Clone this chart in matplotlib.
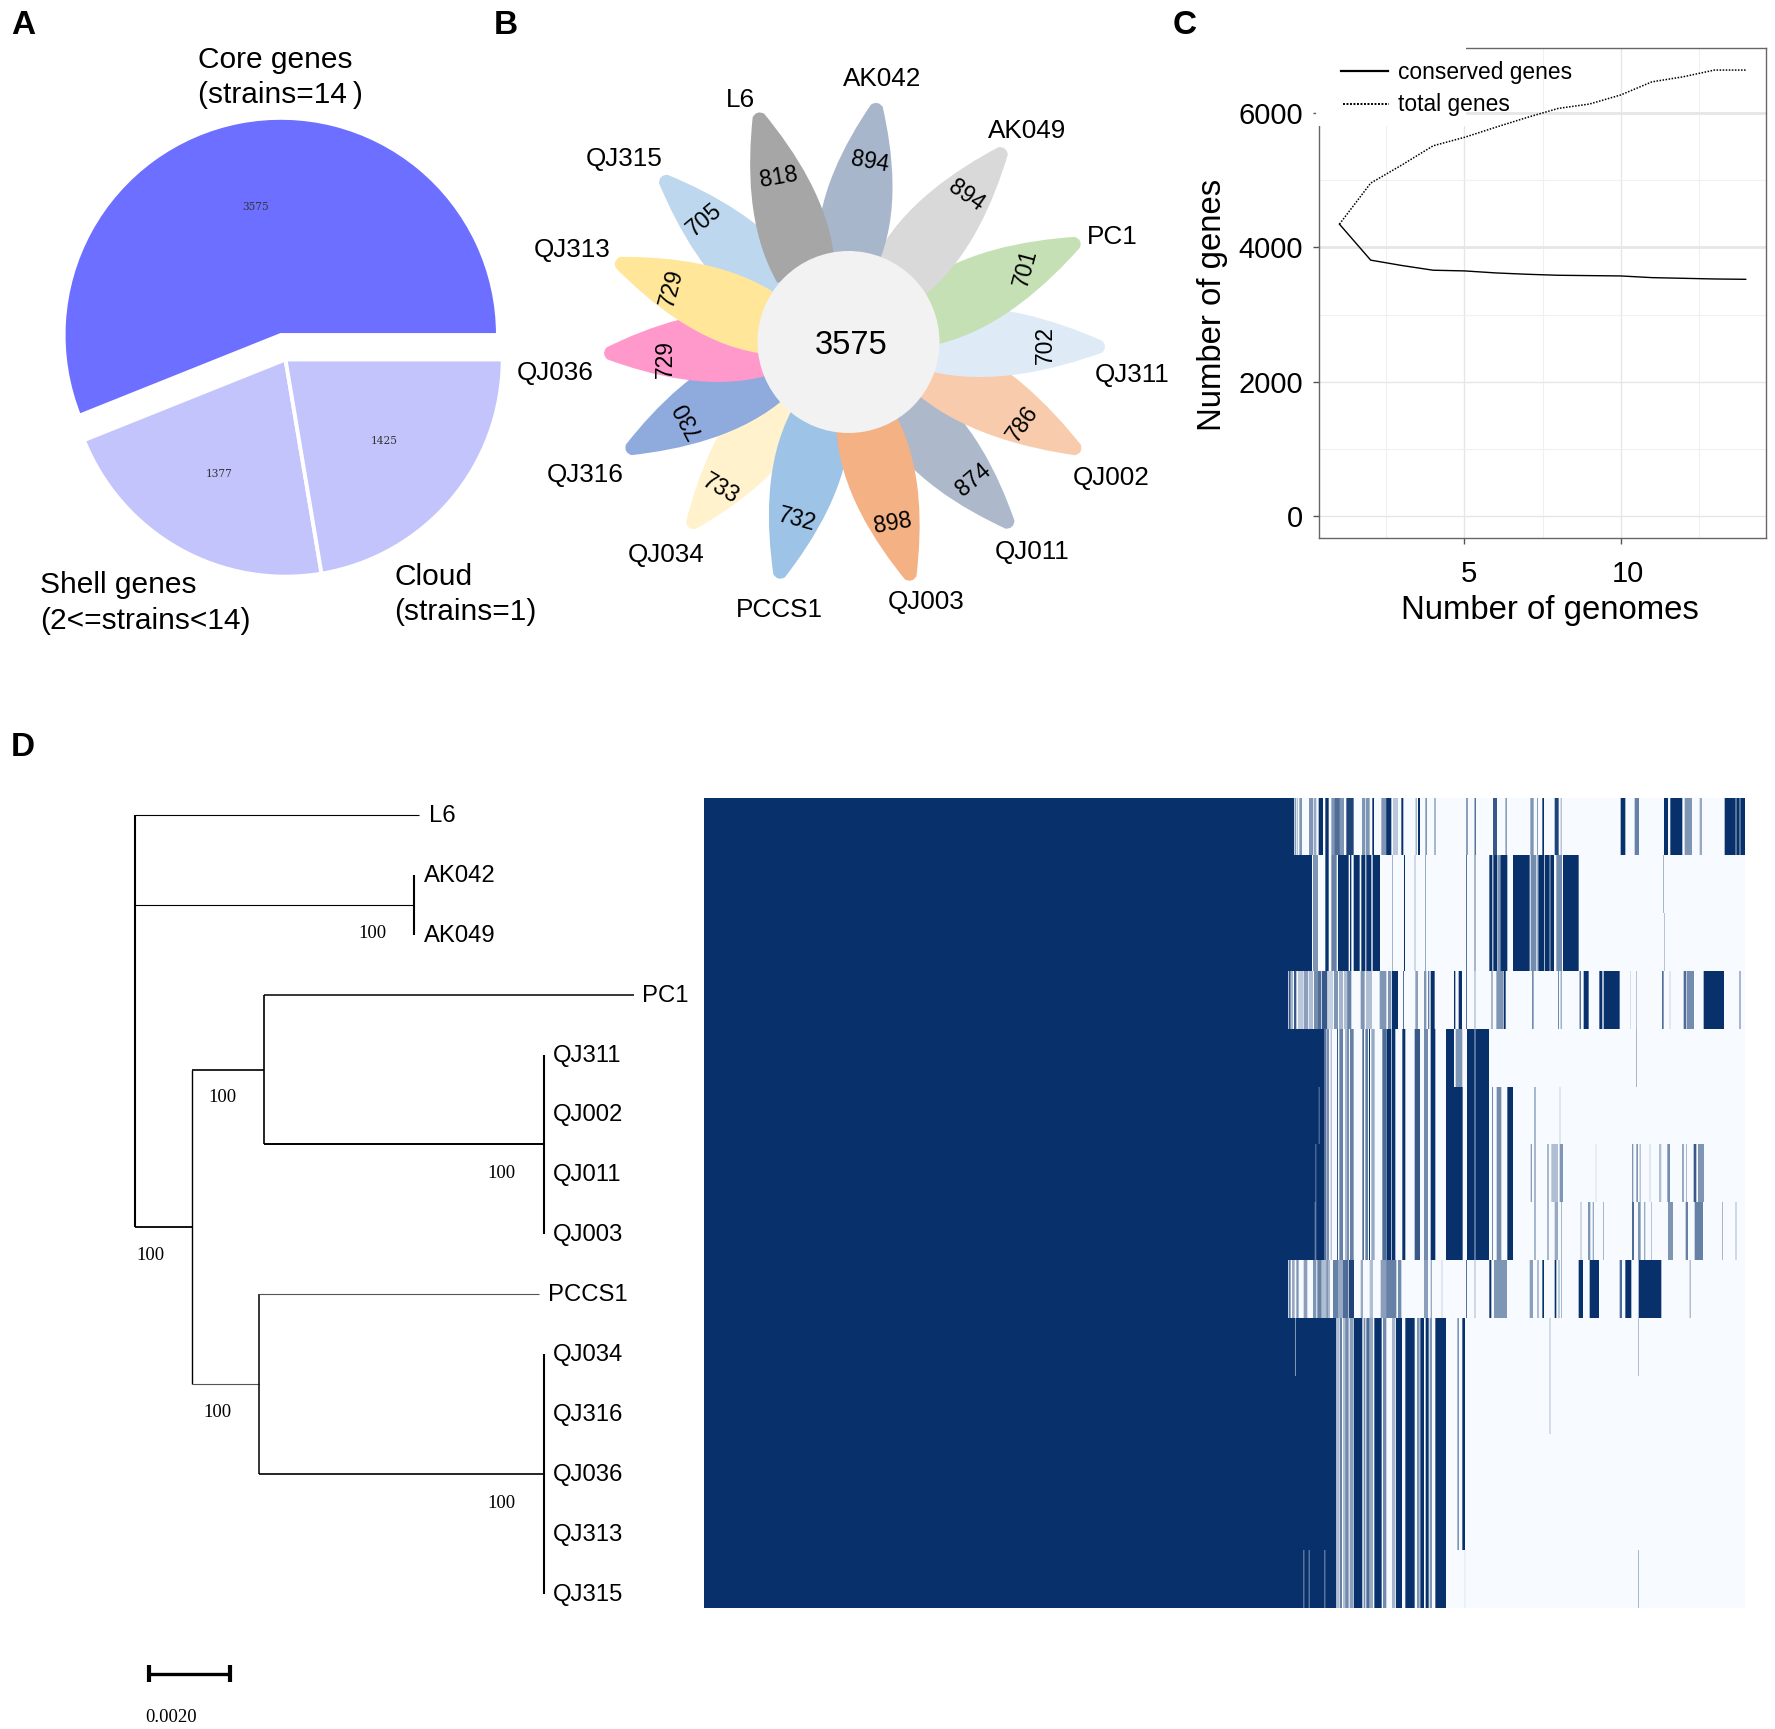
#!/usr/bin/python
# -*- coding: utf-8 -*-
import matplotlib
matplotlib.use('Agg')
import matplotlib.pyplot as plt
import numpy as np
from matplotlib.colors import LinearSegmentedColormap
from matplotlib.patches import Circle, PathPatch, Rectangle
from matplotlib.path import Path
from matplotlib.transforms import ScaledTranslation

plt.rcParams['font.family'] = ['Liberation Sans', 'DejaVu Sans']

W, H = 1775, 1729

# panel A
pie_values = [3575, 1377, 1425]
pie_colors = ['#6C6FFF', '#C3C4FC', '#C3C4FC']

# panel B
strains = ['L6', 'AK042', 'AK049', 'PC1', 'QJ311', 'QJ002', 'QJ011', 'QJ003',
           'PCCS1', 'QJ034', 'QJ316', 'QJ036', 'QJ313', 'QJ315']
specific_genes = [818, 894, 894, 701, 702, 786, 874, 898, 732, 733, 730, 729, 729, 705]
core_count = 3575
petal_colors = ['#A6A6A6', '#A8B6CB', '#D9D9D9', '#C5E0B4', '#DEEBF7', '#F8CBAD', '#ADB9CA',
                '#F4B183', '#9DC3E6', '#FFF2CC', '#8FAADC', '#FF99CC', '#FFE699', '#BDD7EE']

# panel C
n_genomes = list(range(1, 15))
conserved_genes = [4345, 3810, 3730, 3660, 3650, 3620, 3600, 3585, 3580, 3575, 3550, 3540, 3530, 3525]
total_genes = [4345, 4955, 5225, 5510, 5635, 5785, 5930, 6065, 6130, 6265, 6460, 6535, 6635, 6635]

# panel D tree, branch lengths read with the 0.0020 scale bar
tree_leaf_order = ['L6', 'AK042', 'AK049', 'PC1', 'QJ311', 'QJ002', 'QJ011', 'QJ003',
                   'PCCS1', 'QJ034', 'QJ316', 'QJ036', 'QJ313', 'QJ315']
len_L6 = 0.00700
len_AK = 0.00689
len_inner = 0.00141
len_upper = 0.00178
len_PC1 = 0.00913
len_QJ311 = 0.00691
len_lower = 0.00165
len_PCCS1 = 0.00692
len_QJ034 = 0.00704
support = '100'
scale_label = '0.0020'

# panel D presence map: solid core columns, then accessory columns as (start, end, level)
n_core = 1699
n_accessory = 1422
shared_a = [(162, 165, 1), (168, 172, .8), (178, 181, .4), (197, 200, .8), (204, 215, .6), (222, 226, .5),
            (228, 232, .8), (236, 247, .6), (273, 278, .7), (282, 290, .6), (293, 296, 1), (300, 310, .4),
            (333, 345, .7), (346, 360, 1), (362, 372, 1), (393, 402, 1), (430, 446, .8), (458, 470, .55),
            (478, 492, 1), (587, 610, 1), (612, 653, 1)]
shared_b = [(168, 195, 1), (197, 203, .3), (205, 212, .6), (215, 222, .3), (222, 232, .55), (235, 247, .45),
            (248, 273, 1), (277, 282, .55), (285, 295, .7), (296, 305, .4), (309, 331, 1), (335, 345, .55),
            (362, 372, .35), (374, 392, 1), (402, 430, 1), (437, 445, .5), (447, 458, 1), (463, 472, 1),
            (475, 482, .5), (492, 524, 1)]
row_L6 = [(0, 68, 1), (70, 73, .7), (76, 80, .3), (84, 92, .5), (113, 125, .5), (127, 135, .4), (142, 155, 1),
          (162, 172, 1), (180, 190, .5), (190, 205, .7), (205, 218, .5), (225, 247, .9), (272, 282, .5),
          (284, 295, .5), (303, 308, 1), (330, 345, .5), (345, 360, 1), (365, 380, .25), (390, 396, 1),
          (433, 436, .5), (440, 446, 1), (462, 467, .5), (490, 492, 1), (584, 590, .45), (610, 613, 1),
          (665, 677, .8), (702, 707, .45), (777, 787, .5), (798, 800, .7), (813, 818, 1), (850, 862, .9),
          (868, 871, .4), (1048, 1062, 1), (1090, 1103, .6), (1178, 1190, 1), (1197, 1233, 1), (1240, 1262, .5),
          (1285, 1292, .4), (1360, 1393, 1), (1395, 1405, 1), (1407, 1422, 1)]
row_AK042 = [(0, 122, 1), (125, 140, .5), (162, 172, 1), (180, 196, .6), (200, 232, 1), (236, 240, 1),
             (247, 265, 1), (270, 282, 1), (285, 300, 1), (304, 326, 1), (362, 365, .35), (398, 401, 1),
             (430, 432, .5), (461, 464, .4), (584, 586, 1), (610, 612, 1), (654, 663, 1), (666, 678, 1),
             (680, 688, .5), (688, 708, 1), (725, 775, 1), (778, 795, .55), (799, 802, 1), (803, 818, 1),
             (820, 835, 1), (837, 848, 1), (855, 872, .55), (875, 922, 1), (1175, 1177, .5)]
row_AK049 = [(0, 122, 1), (125, 140, .5), (162, 172, 1), (180, 196, .6), (200, 232, 1), (236, 240, 1),
             (247, 265, 1), (270, 282, 1), (285, 300, 1), (304, 326, 1), (362, 365, .35), (398, 401, 1),
             (430, 432, .5), (461, 464, .4), (584, 586, 1), (610, 612, 1), (654, 663, 1), (666, 678, 1),
             (680, 688, .5), (688, 708, 1), (725, 775, 1), (778, 795, .55), (799, 802, 1), (803, 818, 1),
             (820, 835, 1), (837, 848, 1), (855, 872, .55), (875, 922, 1), (1178, 1180, .4)]
row_PC1 = [(0, 50, 1), (52, 58, .8), (60, 64, .5), (68, 75, .8), (80, 95, .25), (97, 110, .45), (112, 125, .3),
           (128, 140, .55), (140, 150, .7), (152, 168, .8), (170, 185, .2), (188, 200, .5), (203, 215, .35),
           (218, 228, .3), (228, 240, .6), (268, 280, .5), (284, 302, .3), (325, 345, .5), (350, 360, .5),
           (362, 380, 1), (395, 397, 1), (432, 440, .45), (458, 465, .5), (470, 474, .6), (478, 490, 1),
           (548, 552, 1), (562, 572, 1), (584, 586, 1), (610, 612, .6), (661, 663, 1), (675, 695, .5),
           (697, 703, 1), (782, 787, .55), (860, 863, .55), (868, 871, .55), (925, 928, 1), (937, 952, 1),
           (984, 993, 1), (997, 1045, 1), (1077, 1079, .2), (1095, 1097, .4), (1172, 1177, .7), (1195, 1197, .3),
           (1237, 1245, .7), (1247, 1268, .55), (1297, 1358, 1), (1405, 1407, 1)]
row_QJ311 = [(0, 160, 1)] + shared_a + [(524, 548, 1), (553, 573, .5), (1095, 1097, .5)]
row_QJ002 = [(0, 142, 1), (142, 145, .6), (145, 160, 1)] + shared_a + [(524, 574, 1), (662, 665, .55),
             (676, 690, .55), (708, 725, 1), (790, 792, 1), (865, 867, .3)]
row_QJ011 = [(0, 132, 1), (132, 135, .6), (135, 160, 1)] + shared_a + [(524, 574, 1), (662, 665, .55), (676, 690, .55),
             (708, 725, 1), (778, 782, .45), (790, 792, 1), (828, 832, .5), (840, 860, .3), (865, 875, .5),
             (973, 975, .2), (1082, 1086, .5), (1095, 1100, .5), (1105, 1108, .4), (1135, 1137, .3),
             (1163, 1170, .3), (1188, 1196, .55), (1233, 1237, .6), (1245, 1247, .5), (1267, 1275, .8),
             (1280, 1298, .5)]
row_QJ003 = [(0, 130, 1), (130, 135, .6), (135, 160, 1)] + shared_a + [(524, 574, 1), (662, 665, .55), (676, 690, .55),
             (708, 725, 1), (790, 792, 1), (828, 832, .5), (850, 860, .4), (870, 872, .5), (928, 930, .5),
             (950, 957, .5), (964, 968, .4), (995, 997, .5), (1082, 1088, .7), (1100, 1108, .5),
             (1118, 1122, .4), (1140, 1142, .4), (1190, 1205, .5), (1243, 1250, .6), (1270, 1295, .6),
             (1353, 1355, .5), (1393, 1395, .5)]
row_PCCS1 = [(0, 50, 1), (52, 58, .6), (62, 70, .4), (75, 82, .5), (97, 108, .45), (125, 135, .5), (138, 150, .6),
             (150, 165, .3), (165, 170, .5), (172, 174, 1), (185, 200, .6), (200, 215, .4), (215, 230, .7),
             (232, 248, .9), (268, 275, .4), (295, 305, .3), (328, 345, .45), (345, 375, .6), (380, 390, .55),
             (458, 470, .45), (478, 482, .4), (511, 513, .3), (584, 586, 1), (610, 612, .5), (654, 660, 1),
             (668, 707, .5), (775, 785, .45), (799, 801, .9), (813, 818, 1), (850, 855, 1), (862, 864, .7),
             (870, 872, .5), (922, 935, 1), (955, 983, 1), (1045, 1052, .7), (1062, 1080, 1), (1102, 1170, 1),
             (1255, 1258, .45)]
row_QJ034 = [(0, 71, 1), (71, 74, .5), (74, 168, 1)] + shared_b + [(558, 563, .5), (573, 581, 1), (835, 837, .45), (1100, 1102, .45)]
row_QJ316 = [(0, 168, 1)] + shared_b + [(558, 563, .5), (573, 581, 1), (835, 837, .45)]
row_QJ036 = [(0, 168, 1)] + shared_b + [(558, 563, .5), (573, 581, 1)]
row_QJ313 = [(0, 168, 1)] + shared_b + [(558, 563, .5), (573, 581, 1)]
row_QJ315 = [(0, 96, 1), (96, 99, .5), (99, 112, 1), (112, 115, .5), (115, 159, 1), (159, 162, .5), (162, 168, 1)] + shared_b + [(580, 582, .15), (1100, 1102, .5)]
presence_rows = [row_L6, row_AK042, row_AK049, row_PC1, row_QJ311, row_QJ002, row_QJ011, row_QJ003,
                 row_PCCS1, row_QJ034, row_QJ316, row_QJ036, row_QJ313, row_QJ315]


def axes_px(left, top, right, bottom):
    return fig.add_axes([left / W, 1 - bottom / H, (right - left) / W, (bottom - top) / H])


def text_px(x, y, s, **kw):
    kw.setdefault('va', 'center')
    kw.setdefault('ha', 'left')
    fig.text(x / W, 1 - y / H, s, **kw)


fig = plt.figure(figsize=(W / 100, H / 100), dpi=100)

# panel letters
for letter, lx, ly in [('A', 11, 26), ('B', 494, 26), ('C', 1173, 26), ('D', 11, 748)]:
    text_px(lx, ly, letter, fontsize=24, fontweight='bold')

# ---- A pie
pie_cx, pie_cy, pie_r = 285.5, 359.5, 215
pie_box = pie_r * 1.3
ax = axes_px(pie_cx - pie_box, pie_cy - pie_box, pie_cx + pie_box, pie_cy + pie_box)
ax.pie(pie_values, colors=pie_colors, startangle=0, counterclock=True, explode=[0.116, 0, 0], radius=1.01,
       wedgeprops={'edgecolor': 'white', 'linewidth': 2.8})
ax.set_xlim(-1.3, 1.3)
ax.set_ylim(-1.3, 1.3)
for v, lx, ly in zip(pie_values, [255.7, 219, 384], [207.5, 474, 440.6]):
    text_px(lx, ly, str(v), fontsize=7.6, ha='center', color='#333333', family='DejaVu Serif')
text_px(197.7, 60, 'Core genes', fontsize=21.5)
text_px(197.7, 95, '(strains=14\u2009)', fontsize=21.5)
text_px(40, 585, 'Shell genes', fontsize=21.5)
text_px(40, 621, '(2<=strains<14)', fontsize=21.5)
text_px(394, 576.5, 'Cloud', fontsize=21.5)
text_px(394, 612, '(strains=1)', fontsize=21.5)

# ---- B flower
flower_cx, flower_cy = 848.5, 342
ax = axes_px(480, 40, 1200, 640)
ax.set_xlim(480 - flower_cx, 1200 - flower_cx)
ax.set_ylim(flower_cy - 640, flower_cy - 40)
ax.axis('off')
tip_deg = [111.6, 83.1, 51.0, 23.6, -1.1, -25.3, -48.5, -75.2, -106.5, -130.6, -153.8, -177.3, 160.9, 138.6]
tip_r = [248, 242, 250, 254, 258, 258, 248, 248, 248, 246, 249, 246, 248, 251]
base_deg = [122, 91, 52, 18, 1, -15, -50, -78, -110, -138, -160, -178, 168, 146]
draw_order = [13, 9, 10, 11, 12, 8, 6, 7, 5, 4, 3, 2, 1, 0]
for i in draw_order:
    ta, ba = np.radians(tip_deg[i]), np.radians(base_deg[i])
    tip = np.array([np.cos(ta), np.sin(ta)]) * tip_r[i]
    base = np.array([np.cos(ba), np.sin(ba)]) * 80
    L = np.linalg.norm(tip - base)
    u = (tip - base) / L
    n = np.array([-u[1], u[0]])
    side = [(0, 30), (0.35, 44), (0.72, 24), (0.975, 6)]
    verts = [base + s * L * u - h * n for s, h in side]
    verts += [base + 1.01 * L * u]
    verts += [base + s * L * u + h * n for s, h in side[::-1]]
    codes = [Path.MOVETO, Path.CURVE4, Path.CURVE4, Path.CURVE4, Path.CURVE3, Path.CURVE3,
             Path.CURVE4, Path.CURVE4, Path.CURVE4]
    ax.add_patch(PathPatch(Path(verts, codes), facecolor=petal_colors[i], edgecolor='none'))
ax.add_patch(Circle((0, 0), 91, facecolor='#F2F2F2', edgecolor='none', zorder=5))
ax.text(3, -3, str(core_count), fontsize=23.5, ha='center', va='center', zorder=6)
value_x = [778.8, 869.5, 966, 1025.7, 1045, 1022, 973, 893, 796.7, 721, 687.8, 665, 672, 704]
value_y = [177.6, 162, 195.7, 268, 345, 424, 480, 523, 520, 489, 419.6, 358.6, 287.5, 220]
value_rot = [10, -10, -35, 75, 90, 55, 40, 10, -15, -30, 118, 90, 75, 40]
for v, lx, ly, rot in zip(specific_genes, value_x, value_y, value_rot):
    text_px(lx, ly, str(v), fontsize=16.5, rotation=rot, ha='center', rotation_mode='anchor')
label_x = [740, 882, 1027, 1112, 1132, 1111, 1032, 926, 779, 666, 585, 555, 572, 624]
label_y = [100, 79, 131, 237, 375, 478, 552, 602, 610, 555, 475, 373, 250, 159]
for s, lx, ly in zip(strains, label_x, label_y):
    text_px(lx, ly, s, fontsize=18.8, ha='center')

# ---- C curves
ax = axes_px(1318.5, 47.6, 1766, 538)
ax.plot(n_genomes, conserved_genes, color='black', lw=1.0, zorder=3)
ax.plot(n_genomes, total_genes, color='black', lw=1.1, ls=(0, (1, 1)), zorder=3)
ax.set_xlim(0.33, 14.65)
ax.set_ylim(-320, 6969)
ax.set_xticks([5, 10])
ax.set_xticks([2.5, 7.5, 12.5], minor=True)
ax.set_yticks([0, 2000, 4000, 6000])
ax.set_yticks([1000, 3000, 5000], minor=True)
ax.grid(which='major', color='#E6E6E6', lw=1.0)
ax.grid(which='minor', color='#F0F0F0', lw=0.8)
ax.yaxis.get_gridlines()[2].set_linewidth(2)
ax.yaxis.get_gridlines()[3].set_linewidth(2)
ax.set_axisbelow(True)
ax.tick_params(which='minor', length=0)
ax.tick_params(axis='y', which='major', labelsize=21, length=4, width=1, color='#555555', pad=7)
ax.tick_params(axis='x', which='major', labelsize=21, length=4, width=1, color='#555555', pad=12)
# the two x labels sit a little right of their ticks in the original
for lab, dx in zip(ax.get_xticklabels(), [4, 7]):
    lab.set_transform(lab.get_transform() + ScaledTranslation(dx / 100, 0, fig.dpi_scale_trans))
for spine in ax.spines.values():
    spine.set_color('#666666')
    spine.set_linewidth(1.0)
# white block behind the pasted legend hides the frame corner
ax.add_patch(Rectangle((-0.005, 0.84), 0.335, 0.165, transform=ax.transAxes, facecolor='white',
                       edgecolor='none', zorder=4, clip_on=False))
text_px(1397.6, 72.5, 'conserved genes', fontsize=16.4)
text_px(1397.6, 105, 'total genes', fontsize=16.4)
leg_ax = axes_px(1318.5, 47.6, 1766, 538)
leg_ax.set_xlim(1318.5, 1766)
leg_ax.set_ylim(538, 47.6)
leg_ax.axis('off')
leg_ax.plot([1341, 1388], [71.5, 71.5], color='black', lw=1.6)
leg_ax.plot([1343, 1389], [104, 104], color='black', lw=1.4, ls=(0, (1, 0.8)))
text_px(1213, 305, 'Number of genes', fontsize=23.7, rotation=90, ha='center')
text_px(1549.6, 611, 'Number of genomes', fontsize=23.7, ha='center')

# ---- D tree
root_px, leaf0_px, px_per_unit, px_per_leaf = 135, 815, 40500, 59.9
tl, tt, tr, tb = 100, 780, 700, 1729
ax = axes_px(tl, tt, tr, tb)
ax.set_xlim((tl - root_px) / px_per_unit, (tr - root_px) / px_per_unit)
ax.set_ylim((tb - leaf0_px) / px_per_leaf, (tt - leaf0_px) / px_per_leaf)
ax.axis('off')
y_leaf = {name: i for i, name in enumerate(tree_leaf_order)}
y_ak = (y_leaf['AK042'] + y_leaf['AK049']) / 2
y_qj1 = (y_leaf['QJ311'] + y_leaf['QJ003']) / 2
y_qj2 = (y_leaf['QJ034'] + y_leaf['QJ315']) / 2
y_up = (y_leaf['PC1'] + y_qj1) / 2
y_lo = (y_leaf['PCCS1'] + y_qj2) / 2
y_in = (y_up + y_lo) / 2
x_in = len_inner
x_up = x_in + len_upper
x_lo = x_in + len_lower


def branch(x0, x1, y0, y1, lw=1.1, color='black'):
    ax.plot([x0, x1], [y0, y1], color=color, lw=lw, solid_capstyle='butt')


branch(0, 0, 0, y_in, 1.5)
branch(0, len_L6, 0, 0, 0.8)
branch(0, len_AK, y_ak, y_ak, 0.8)
branch(len_AK, len_AK, y_leaf['AK042'], y_leaf['AK049'], 1.5)
branch(0, x_in, y_in, y_in, 1.3)
branch(x_in, x_in, y_up, y_lo, 1.0)
branch(x_in, x_up, y_up, y_up, 1.2)
branch(x_up, x_up, y_leaf['PC1'], y_qj1, 1.2)
branch(x_up, x_up + len_PC1, y_leaf['PC1'], y_leaf['PC1'], 1.1)
branch(x_up, x_up + len_QJ311, y_qj1, y_qj1, 1.4)
branch(x_up + len_QJ311, x_up + len_QJ311, y_leaf['QJ311'], y_leaf['QJ003'], 1.5)
branch(x_in, x_lo, y_lo, y_lo, 0.8, '#555555')
branch(x_lo, x_lo, y_leaf['PCCS1'], y_qj2, 1.1)
branch(x_lo, x_lo + len_PCCS1, y_leaf['PCCS1'], y_leaf['PCCS1'], 0.8, '#555555')
branch(x_lo, x_lo + len_QJ034, y_qj2, y_qj2, 1.2)
branch(x_lo + len_QJ034, x_lo + len_QJ034, y_leaf['QJ034'], y_leaf['QJ315'], 1.5)
for name in tree_leaf_order:
    lx = {'L6': 429, 'AK042': 424, 'AK049': 424, 'PC1': 641.5, 'PCCS1': 547.5}.get(name, 553)
    text_px(lx, leaf0_px + y_leaf[name] * px_per_leaf + 1, name, fontsize=17.2)
for lx, ly in [(372, 933), (222.5, 1098), (501.6, 1173.5), (150, 1256), (217, 1412.6), (501.6, 1503)]:
    text_px(lx, ly, support, fontsize=13.5, ha='center', family='Liberation Serif')
bar_y = (1673.5 - leaf0_px) / px_per_leaf
bar0 = (149.4 - root_px) / px_per_unit
bar1 = bar0 + 0.0020
ax.plot([bar0, bar1], [bar_y, bar_y], color='black', lw=2.4, solid_capstyle='butt')
for bx in (bar0, bar1):
    ax.plot([bx, bx], [bar_y - 0.14, bar_y + 0.14], color='black', lw=3, solid_capstyle='butt')
text_px(171, 1717, scale_label, fontsize=13.4, ha='center', family='Liberation Serif')

# ---- D presence map
matrix = np.zeros((len(presence_rows), n_core + n_accessory))
matrix[:, :n_core] = 1
for r, row in enumerate(presence_rows):
    for start, end, level in row:
        matrix[r, n_core + start:n_core + end] = level
# three columns to a screen pixel, thin stripes blend to grey like the original
binned = matrix[:, :3120].reshape(len(presence_rows), 1040, 3).mean(axis=2)
presence_cmap = LinearSegmentedColormap.from_list('presence', ['#F7FBFF', '#08306B'])
ax = axes_px(703.6, 798, 1744, 1608.5)
ax.imshow(binned, aspect='auto', cmap=presence_cmap, vmin=0, vmax=1, interpolation='nearest')
ax.axis('off')

fig.savefig('out.png', dpi=100, facecolor='white')
